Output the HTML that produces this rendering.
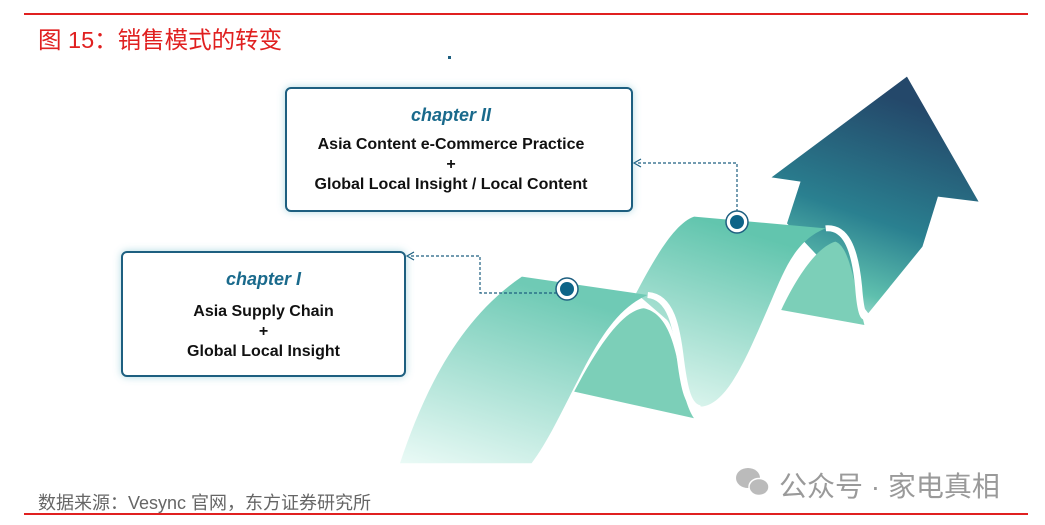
<!DOCTYPE html>
<html><head><meta charset="utf-8"><style>
html,body{margin:0;padding:0;background:#fff;}
body{width:1045px;height:525px;position:relative;overflow:hidden;font-family:"Liberation Sans","Noto Sans CJK SC",sans-serif;}
.t{position:absolute;white-space:nowrap;}
.box{position:absolute;border:2px solid #1d5f80;border-radius:6px;background:#fff;box-shadow:0 0 8px rgba(80,170,190,.45);}
.ln{position:absolute;left:0;right:0;text-align:center;font-weight:bold;font-size:16px;color:#111;}
.ch{position:absolute;left:0;right:0;text-align:center;font-weight:bold;font-style:italic;font-size:18px;color:#1a6a8c;}
</style></head><body>
<div style="position:absolute;left:24px;top:13px;width:1004px;height:2px;background:#e02020"></div>
<div class="t" style="left:38px;top:21px;font-size:23.5px;color:#e02020;">图 15：销售模式的转变</div>
<div style="position:absolute;left:448px;top:56px;width:3px;height:3px;background:#1d5f80"></div>

<svg width="1045" height="525" style="position:absolute;left:0;top:0">
<defs>
<linearGradient id="ga" x1="0" y1="1" x2="0.3" y2="0"><stop offset="0" stop-color="#d8f0ec"/><stop offset="0.2" stop-color="#5fc0ae"/><stop offset="0.5" stop-color="#2a8090"/><stop offset="1" stop-color="#24486a"/></linearGradient>
<linearGradient id="gr" x1="0" y1="1" x2="0.4" y2="0"><stop offset="0" stop-color="#eafaf6"/><stop offset="1" stop-color="#6fcab5"/></linearGradient>
<linearGradient id="gr2" x1="0" y1="1" x2="0.3" y2="0"><stop offset="0" stop-color="#e4f8f2"/><stop offset="1" stop-color="#62c5ae"/></linearGradient>
</defs>
<g transform="translate(400,60) scale(0.387,0.3333)">
<path d="M1310,50 L1495,425 L1390,410 L1350,560 L1210,760 L1170,700 L1000,490 L1035,365 L960,352 Z" fill="url(#ga)"/>
<path d="M985,750 C1030,640 1080,560 1125,545 C1160,560 1170,650 1200,795 Z" fill="#7ccfb8"/>
<path d="M610,700 C660,590 710,490 760,470 L1100,505 C1020,540 990,640 960,720 C900,880 850,1030 780,1040 C730,1030 720,820 690,780 Z" fill="url(#gr2)"/>
<path d="M1100,505 C1150,500 1175,560 1185,680 C1190,760 1200,790 1210,760" fill="none" stroke="#fff" stroke-width="18"/>
<path d="M450,995 C520,840 580,750 630,745 C690,760 710,850 725,950 C735,1020 750,1060 760,1075 Z" fill="#7ccfb8"/>
<path d="M0,1210 C60,1000 150,780 315,650 L640,705 C570,740 520,820 460,960 C420,1050 380,1150 340,1210 Z" fill="url(#gr)"/>
<path d="M640,705 C700,710 715,800 725,900 C735,990 745,1040 775,1045" fill="none" stroke="#fff" stroke-width="18"/>
</g>
<path d="M737,212 V163 H636" fill="none" stroke="#1d5f80" stroke-width="1.2" stroke-dasharray="3,2"/>
<path d="M641,159 L634,163 L641,167" fill="none" stroke="#1d5f80" stroke-width="1.2"/>
<path d="M557,293 H480 V256 H409" fill="none" stroke="#1d5f80" stroke-width="1.2" stroke-dasharray="3,2"/>
<path d="M414,252 L407,256 L414,260" fill="none" stroke="#1d5f80" stroke-width="1.2"/>
<circle cx="737" cy="222" r="11" fill="#fff" stroke="#1d5f80" stroke-width="1.5"/>
<circle cx="737" cy="222" r="7" fill="#0d6488"/>
<circle cx="567" cy="289" r="11" fill="#fff" stroke="#1d5f80" stroke-width="1.5"/>
<circle cx="567" cy="289" r="7" fill="#0d6488"/>
<ellipse cx="748" cy="478" rx="12" ry="10" fill="#bbb"/>
<ellipse cx="759" cy="487" rx="10" ry="8.5" fill="#bbb" stroke="#fff" stroke-width="1.5"/>
</svg>

<div class="box" style="left:285px;top:87px;width:344px;height:121px;">
<div class="ch" style="top:16px;right:16px">chapter II</div>
<div class="ln" style="top:47px;right:16px">Asia Content e-Commerce Practice</div>
<div class="ln" style="top:67px;right:16px">+</div>
<div class="ln" style="top:87px;right:16px">Global Local Insight / Local Content</div>
</div>
<div class="box" style="left:121px;top:251px;width:281px;height:122px;">
<div class="ch" style="top:16px">chapter I</div>
<div class="ln" style="top:50px">Asia Supply Chain</div>
<div class="ln" style="top:70px">+</div>
<div class="ln" style="top:90px">Global Local Insight</div>
</div>

<div class="t" style="left:779px;top:465px;font-size:28px;color:#9a9a9a;">公众号 · 家电真相</div>
<div class="t" style="left:38px;top:489px;font-size:18px;color:#666;">数据来源：Vesync 官网，东方证券研究所</div>
<div style="position:absolute;left:24px;top:513px;width:1004px;height:2px;background:#e02020"></div>
</body></html>
